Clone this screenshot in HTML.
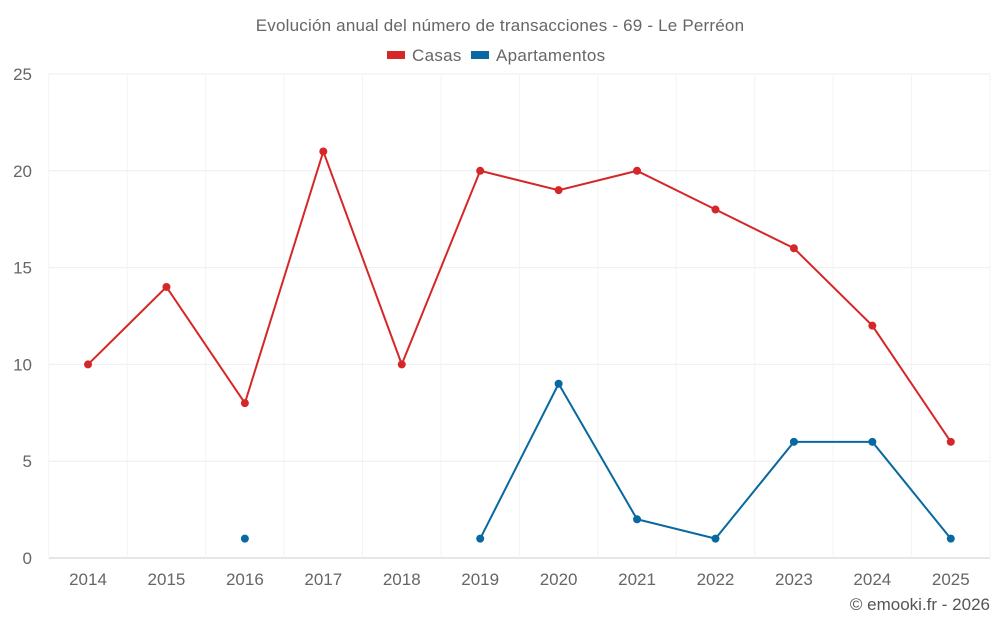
<!DOCTYPE html>
<html><head><meta charset="utf-8"><style>
body{margin:0;background:#fff;font-family:"Liberation Sans",sans-serif;}
svg text{font-family:"Liberation Sans",sans-serif;}
</style></head><body>
<svg id="chart" width="1000" height="625" xmlns="http://www.w3.org/2000/svg">
<text x="500" y="31" text-anchor="middle" font-size="17" letter-spacing="0.2" fill="#666">Evolución anual del número de transacciones - 69 - Le Perréon</text>
<g>
<g><rect x="387" y="51" width="18" height="8" fill="#d62728"/><text x="412" y="61" font-size="17" letter-spacing="0.3" fill="#666">Casas</text></g>
<g><rect x="471" y="51" width="18" height="8" fill="#0868a0"/><text x="496" y="61" font-size="17" letter-spacing="0.3" fill="#666">Apartamentos</text></g>
</g>
<g id="grid"></g>
<g id="axes"></g>
<g id="series"></g>
<text x="990" y="610" text-anchor="end" font-size="17" fill="#555">© emooki.fr - 2026</text>
</svg>
<script>
const years=[2014,2015,2016,2017,2018,2019,2020,2021,2022,2023,2024,2025];
const casas=[10,14,8,21,10,20,19,20,18,16,12,6];
const apartamentos=[null,null,1,null,null,1,9,2,1,6,6,1];
const yTicks=[0,5,10,15,20,25];
const NS="http://www.w3.org/2000/svg";
const L=48.8,R=990,T=74,B=558,yMax=25;
const band=(R-L)/years.length;
const x=i=>L+band*(i+0.5);
const y=v=>B-(v/yMax)*(B-T);
function mk(tag,attrs,parent){const e=document.createElementNS(NS,tag);for(const k in attrs)e.setAttribute(k,attrs[k]);parent.appendChild(e);return e;}
const grid=document.getElementById('grid'),axes=document.getElementById('axes'),series=document.getElementById('series');
yTicks.forEach(t=>{
 const g=mk('line',{x1:L,x2:R,y1:y(t),y2:y(t),stroke:t===0?'#ccc':'#eee','stroke-width':1},grid);
 
 
 const tx=mk('text',{x:32,y:y(t)+6,'text-anchor':'end','font-size':17,fill:'#666'},axes);
 tx.textContent=t;
 
 
});
for(let i=0;i<=years.length;i++){
 const v=mk('line',{x1:L+band*i,x2:L+band*i,y1:T,y2:B,stroke:'#f3f3f3','stroke-width':1},grid);
 
 
}
years.forEach((yr,i)=>{
 const tx=mk('text',{x:x(i),y:585,'text-anchor':'middle','font-size':17,fill:'#666'},axes);
 tx.textContent=yr;
 
 
});
function draw(data,color,name){
 let d='',pen=false;
 data.forEach((v,i)=>{if(v==null){pen=false;return;}d+=(pen?'L':'M')+x(i)+' '+y(v)+' ';pen=true;});
 const p=mk('path',{d:d,fill:'none',stroke:color,'stroke-width':2},series);
 
 
 data.forEach((v,i)=>{if(v==null)return;
  const c=mk('circle',{cx:x(i),cy:y(v),r:4,fill:color},series);
  
  
 });
}
draw(casas,'#d62728','casas');
draw(apartamentos,'#0868a0','apartamentos');
</script>
</body></html>
